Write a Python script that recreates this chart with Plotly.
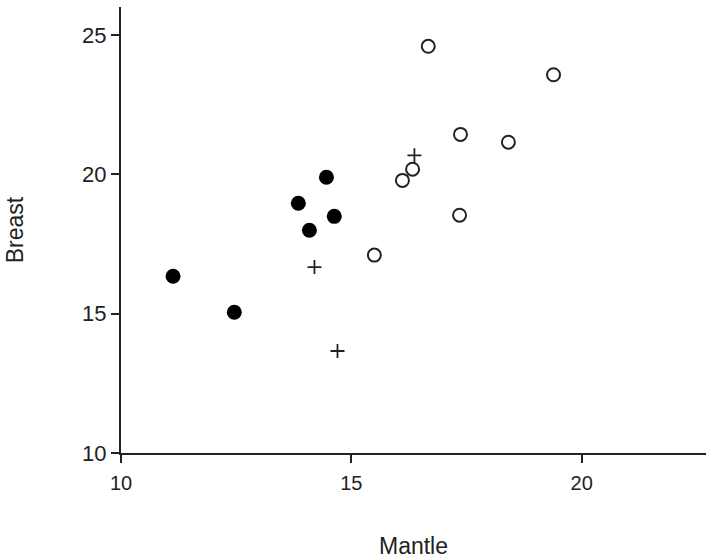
import plotly.graph_objects as go

# Group A (filled circles)
a_mantle = [11.13, 12.46, 13.85, 14.09, 14.46, 14.63]
a_breast = [16.34, 15.05, 18.96, 17.99, 19.89, 18.49]
# Group B (open circles)
b_mantle = [16.67, 19.39, 17.37, 18.41, 16.33, 16.11, 17.35, 15.50]
b_breast = [24.59, 23.57, 21.43, 21.15, 20.18, 19.78, 18.53, 17.10]
# Group C (plus signs)
c_mantle = [16.37, 14.20, 14.70]
c_breast = [20.68, 16.67, 13.66]

x_ticks = [10, 15, 20]
y_ticks = [10, 15, 20, 25]

fig = go.Figure()
fig.add_trace(go.Scatter(x=a_mantle, y=a_breast, mode="markers",
                         marker=dict(symbol="circle", size=15, color="black",
                                     line=dict(width=0)), name="A"))
fig.add_trace(go.Scatter(x=b_mantle, y=b_breast, mode="markers",
                         marker=dict(symbol="circle-open", size=13, color="#222",
                                     line=dict(width=2)), name="B"))
fig.add_trace(go.Scatter(x=c_mantle, y=c_breast, mode="markers",
                         marker=dict(symbol="cross-thin-open", size=10, color="#222",
                                     line=dict(width=1.8)), name="C"))

font_family = "Liberation Sans, Arial, Helvetica, sans-serif"
fig.update_layout(
    width=706, height=559,
    margin=dict(l=121, r=0, t=7, b=106),
    paper_bgcolor="white", plot_bgcolor="white",
    showlegend=False,
    font=dict(family=font_family, color="#222"),
)
fig.update_xaxes(range=[10, 22.7], tickvals=x_ticks, ticks="outside", ticklen=8,
                 tickwidth=1.5, tickcolor="#222", showline=True, linecolor="#222",
                 linewidth=2, showgrid=False, zeroline=False,
                 tickfont=dict(size=20, color="#222"), ticklabelstandoff=3,
                 title=dict(text="Mantle", font=dict(size=23, color="#222"), standoff=46))
fig.update_yaxes(range=[10, 26], tickvals=y_ticks, ticks="outside", ticklen=8,
                 tickwidth=1.5, tickcolor="#222", showline=True, linecolor="#222",
                 linewidth=2, showgrid=False, zeroline=False,
                 tickfont=dict(size=22, color="#222"),
                 title=dict(text="Breast", font=dict(size=23, color="#222"), standoff=52))

fig.write_html("out.html")
